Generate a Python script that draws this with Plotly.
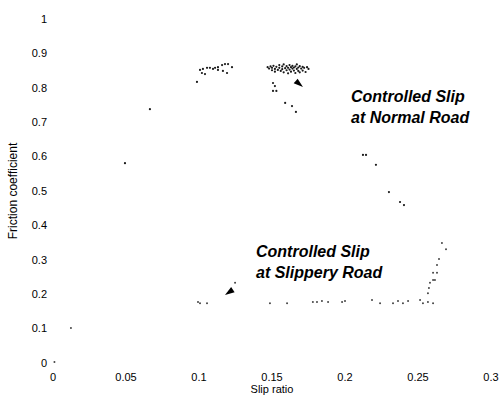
import plotly.graph_objects as go

# ---- data ----
normal_slip = [
    0.0986, 0.1007, 0.102, 0.1027, 0.1041, 0.1055, 0.1075, 0.1096, 0.111, 0.113, 0.113,
    0.1158, 0.1164, 0.1178, 0.1192, 0.1199, 0.1226,
    0.147, 0.148, 0.149, 0.150, 0.150, 0.151, 0.152, 0.152, 0.153, 0.154, 0.155, 0.155,
    0.156, 0.157, 0.157, 0.158, 0.158, 0.159, 0.160, 0.160, 0.161, 0.161, 0.162, 0.162,
    0.163, 0.163, 0.164, 0.164, 0.165, 0.165, 0.166, 0.166, 0.167, 0.167, 0.168, 0.168,
    0.169, 0.169, 0.170, 0.171, 0.171, 0.172, 0.173, 0.174, 0.175,
    0.1507, 0.152, 0.1507, 0.153, 0.159, 0.1637, 0.1664,
    0.0664, 0.0493,
    0.2123, 0.2144, 0.2212, 0.2301, 0.2377, 0.2404,
]
normal_mu = [
    0.817, 0.852, 0.843, 0.855, 0.840, 0.858, 0.858, 0.855, 0.858, 0.860, 0.852,
    0.866, 0.849, 0.869, 0.843, 0.869, 0.860,
    0.860, 0.856, 0.862, 0.858, 0.851, 0.864, 0.855, 0.847, 0.861, 0.852, 0.866, 0.858,
    0.849, 0.862, 0.854, 0.868, 0.845, 0.857, 0.863, 0.851, 0.858, 0.842, 0.866, 0.853,
    0.860, 0.847, 0.856, 0.864, 0.850, 0.859, 0.843, 0.862, 0.855, 0.868, 0.849, 0.859,
    0.863, 0.845, 0.856, 0.861, 0.850, 0.858, 0.846, 0.860, 0.855,
    0.814, 0.805, 0.791, 0.791, 0.756, 0.747, 0.730,
    0.738, 0.581,
    0.605, 0.605, 0.576, 0.497, 0.468, 0.459,
]

slippery_slip = [
    0.001, 0.0123,
    0.0993, 0.1007, 0.1055, 0.1247,
    0.1486, 0.1603, 0.178, 0.1808, 0.1842, 0.1884, 0.198, 0.200,
    0.2185, 0.224, 0.2329, 0.2363, 0.2397, 0.2432, 0.2514, 0.2534, 0.2568, 0.2603,
    0.2568, 0.2575, 0.2582, 0.2603, 0.2616, 0.2603, 0.263, 0.263, 0.2644, 0.2692, 0.2664,
]
slippery_mu = [
    0.003, 0.102,
    0.177, 0.174, 0.174, 0.233,
    0.174, 0.174, 0.177, 0.177, 0.180, 0.177, 0.177, 0.180,
    0.183, 0.174, 0.174, 0.180, 0.174, 0.180, 0.183, 0.174, 0.177, 0.174,
    0.203, 0.218, 0.233, 0.241, 0.241, 0.262, 0.262, 0.285, 0.302, 0.331, 0.349,
]

# arrow heads: tip position and pointing direction (degrees clockwise from up)
arrow_slip = [0.1712, 0.1178]
arrow_mu = [0.802, 0.198]
arrow_angle = [130, 236]

x_ticks = [0, 0.05, 0.1, 0.15, 0.2, 0.25, 0.3]
x_tick_labels = ["0", "0.05", "0.1", "0.15", "0.2", "0.25", "0.3"]
y_ticks = [0, 0.1, 0.2, 0.3, 0.4, 0.5, 0.6, 0.7, 0.8, 0.9, 1]
y_tick_labels = ["0", "0.1", "0.2", "0.3", "0.4", "0.5", "0.6", "0.7", "0.8", "0.9", "1"]

FONT = "Liberation Sans, Arial, Helvetica, sans-serif"

fig = go.Figure()
fig.add_trace(go.Scatter(
    x=normal_slip, y=normal_mu, mode="markers",
    marker=dict(size=2.2, color="#1a1a1a", line=dict(width=0)),
    showlegend=False, hoverinfo="skip",
))
fig.add_trace(go.Scatter(
    x=slippery_slip, y=slippery_mu, mode="markers",
    marker=dict(size=2, color="#444444", line=dict(width=0)),
    showlegend=False, hoverinfo="skip",
))
fig.add_trace(go.Scatter(
    x=arrow_slip, y=arrow_mu, mode="markers",
    marker=dict(symbol="arrow", size=10, angle=arrow_angle, color="black",
                line=dict(width=0)),
    showlegend=False, hoverinfo="skip",
))

label_font = dict(family=FONT, size=16, color="black", weight="bold", style="italic")
for txt, xx, yy in [
    ("Controlled Slip<br>at Normal Road", 0.2028, 0.745),
    ("Controlled Slip<br>at Slippery Road", 0.1380, 0.295),
]:
    fig.add_annotation(x=xx, y=yy, xref="x", yref="y", text=txt, showarrow=False,
                       xanchor="left", yanchor="middle", align="left", font=label_font)

fig.update_layout(
    width=502, height=399,
    margin=dict(l=53, r=11, t=19, b=36, autoexpand=False),
    paper_bgcolor="white", plot_bgcolor="white",
    font=dict(family=FONT, size=11, color="black"),
)
fig.update_xaxes(
    range=[0, 0.3], tickvals=x_ticks, ticktext=x_tick_labels,
    showgrid=False, zeroline=False, showline=False, ticks="",
    ticklabelstandoff=6, automargin=False,
    title=dict(text="Slip ratio", font=dict(size=11), standoff=3),
)
fig.update_yaxes(
    range=[0, 1], tickvals=y_ticks, ticktext=y_tick_labels,
    showgrid=False, zeroline=False, showline=False, ticks="",
    ticklabelstandoff=5, automargin=False,
    title=dict(text="Friction coefficient", font=dict(size=12), standoff=11),
)

fig.write_html("out.html")
